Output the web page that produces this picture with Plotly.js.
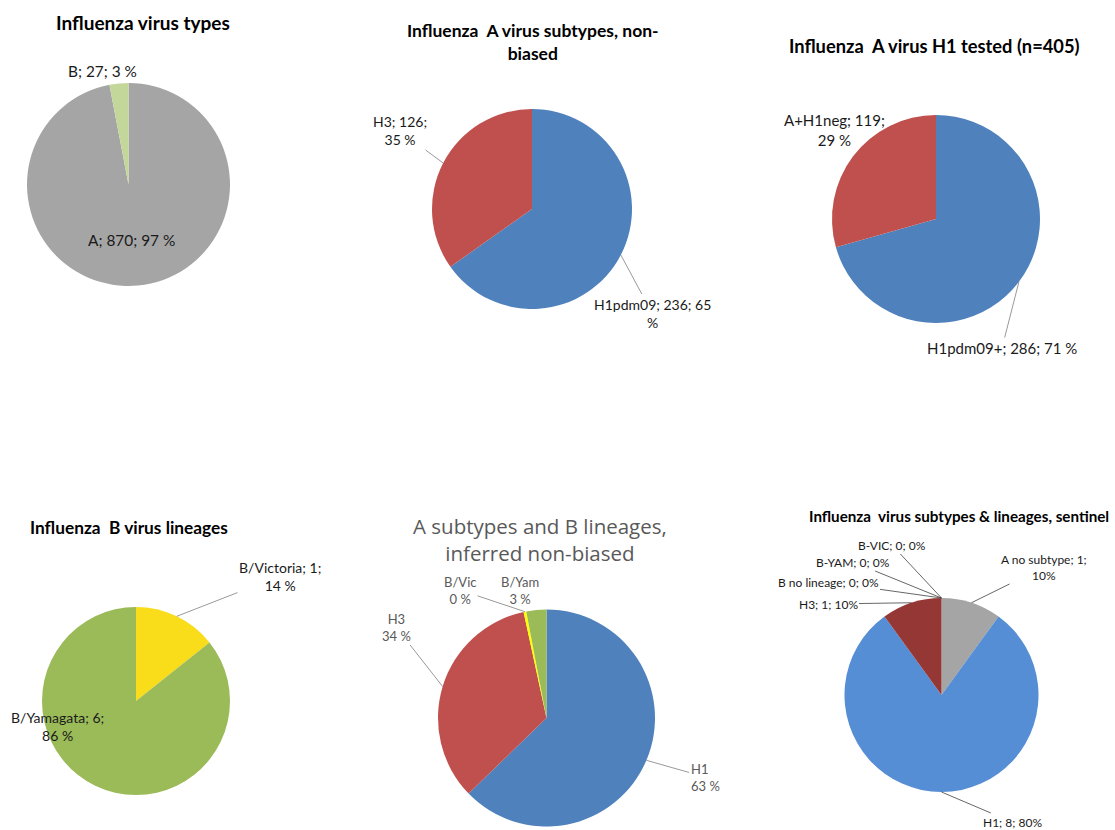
<!DOCTYPE html>
<html>
<head>
<meta charset="utf-8">
<script src="https://cdn.plot.ly/plotly-3.0.1.min.js"></script>
<style>html,body{margin:0;padding:0;background:#fff;}#chart{width:1115px;height:830px;}</style>
</head>
<body>
<div id="chart"></div>
<script>
// ---- data ----
const typeLabels = ['A', 'B'];
const typeValues = [870, 27];
const subLabels = ['H1pdm09', 'H3'];
const subValues = [236, 126];
const h1Labels = ['H1pdm09+', 'A+H1neg'];
const h1Values = [286, 119];
const linLabels = ['B/Victoria', 'B/Yamagata'];
const linValues = [1, 6];
const infLabels = ['H1', 'H3', 'B/Vic', 'B/Yam'];
const infPercents = [63, 34, 0.4, 3];
const senLabels = ['A no subtype', 'H1', 'H3', 'B no lineage', 'B-YAM', 'B-VIC'];
const senValues = [1, 8, 1, 0, 0, 0];

const titles = [
  'Influenza virus types',
  'Influenza  A virus subtypes, non-<br>biased',
  'Influenza  A virus H1 tested (n=405)',
  'Influenza  B virus lineages',
  'A subtypes and B lineages,<br>inferred non-biased',
  'Influenza  virus subtypes &amp; lineages, sentinel'
];

// ---- styling / layout ----
const W = 1115, H = 830;
const FONT = 'Lato, "Liberation Sans", sans-serif';
const pies = [
  {labels: typeLabels, values: typeValues, colors: ['#a5a5a5', '#c4d79b'], cx: 128.5, cy: 184.5, r: 101.5},
  {labels: subLabels, values: subValues, colors: ['#4f81bd', '#c0504d'], cx: 532, cy: 209, r: 100},
  {labels: h1Labels, values: h1Values, colors: ['#4f81bd', '#c0504d'], cx: 936, cy: 219, r: 104},
  {labels: linLabels, values: linValues, colors: ['#f9dc1a', '#9bbb59'], cx: 136, cy: 701, r: 94},
  {labels: infLabels, values: infPercents, colors: ['#4f81bd', '#c0504d', '#ffff00', '#9bbb59'], cx: 546.5, cy: 718, r: 108.5},
  {labels: senLabels, values: senValues, colors: ['#a5a5a5', '#558ed5', '#953735', '#ffc000', '#8064a2', '#4bacc6'], cx: 941.5, cy: 695, r: 97}
];
const titleSpecs = [
  {x: 143, y: 23, size: 19, bold: true, color: '#000'},
  {x: 533, y: 42, size: 17.5, bold: true, color: '#000'},
  {x: 934, y: 46, size: 18.3, bold: true, color: '#000'},
  {x: 129, y: 527, size: 17.3, bold: true, color: '#000'},
  {x: 540, y: 539, size: 20.5, bold: false, color: '#595959'},
  {x: 959, y: 516, size: 15.2, bold: true, color: '#000'}
];
// label placement: pie index, slice index, text centre, leader line, format style
const labelSpecs = [
  {p: 0, i: 0, tx: 131, ty: 240, line: false, style: 'one', size: 15.4, color: '#1a1a1a'},
  {p: 0, i: 1, tx: 102, ty: 71, line: false, style: 'one', size: 15.4, color: '#1a1a1a'},
  {p: 1, i: 0, tx: 652, ty: 313, line: true, style: 'brSign', size: 14, color: '#1a1a1a'},
  {p: 1, i: 1, tx: 400, ty: 131, line: true, style: 'brPct', size: 14, color: '#1a1a1a'},
  {p: 2, i: 0, tx: 1002, ty: 348, line: true, style: 'one', size: 15, color: '#1a1a1a'},
  {p: 2, i: 1, tx: 834, ty: 130, line: false, style: 'brPct', size: 15, color: '#1a1a1a'},
  {p: 3, i: 0, tx: 280, ty: 576, line: true, style: 'brPct', size: 14, color: '#1a1a1a'},
  {p: 3, i: 1, tx: 57, ty: 726, line: false, style: 'brPct', size: 14, color: '#1a1a1a'},
  {p: 4, i: 0, tx: 705, ty: 777, line: true, style: 'short', size: 13, color: '#595959', align: 'left'},
  {p: 4, i: 1, tx: 396, ty: 627, line: true, style: 'short', size: 13, color: '#595959'},
  {p: 4, i: 2, tx: 460, ty: 590, line: true, style: 'short', size: 13, color: '#595959'},
  {p: 4, i: 3, tx: 520, ty: 590, line: false, style: 'short', size: 13, color: '#595959'},
  {p: 5, i: 0, tx: 1044, ty: 567, line: true, style: 'tightBr', size: 12, color: '#1a1a1a'},
  {p: 5, i: 1, tx: 1012, ty: 822, line: true, style: 'tight', size: 12, color: '#1a1a1a'},
  {p: 5, i: 2, tx: 828, ty: 604, line: true, style: 'tight', size: 12, color: '#1a1a1a'},
  {p: 5, i: 3, tx: 828, ty: 582, line: true, style: 'tight', size: 12, color: '#1a1a1a'},
  {p: 5, i: 4, tx: 853, ty: 562, line: true, style: 'tight', size: 12, color: '#1a1a1a'},
  {p: 5, i: 5, tx: 892, ty: 545, line: true, style: 'tight', size: 12, color: '#1a1a1a'}
];

function fmt(label, v, pct, style) {
  switch (style) {
    case 'one': return `${label}; ${v}; ${pct} %`;
    case 'brPct': return `${label}; ${v};<br>${pct} %`;
    case 'brSign': return `${label}; ${v}; ${pct}<br>%`;
    case 'short': return `${label}<br>${pct} %`;
    case 'tight': return `${label}; ${v}; ${pct}%`;
    case 'tightBr': return `${label}; ${v};<br>${pct}%`;
  }
}
const px = x => x / W;
const py = y => 1 - y / H;

const traces = pies.map(p => ({
  type: 'pie',
  labels: p.labels,
  values: p.values,
  sort: false,
  direction: 'clockwise',
  rotation: 0,
  textinfo: 'none',
  hoverinfo: 'label+value+percent',
  showlegend: false,
  marker: {colors: p.colors, line: {width: 0}},
  domain: {x: [px(p.cx - p.r), px(p.cx + p.r)], y: [py(p.cy + p.r), py(p.cy - p.r)]}
}));

const annotations = [];
titleSpecs.forEach((t, k) => {
  annotations.push({
    xref: 'paper', yref: 'paper', x: px(t.x), y: py(t.y), showarrow: false,
    xanchor: 'center', yanchor: 'middle', align: 'center',
    text: t.bold ? `<b>${titles[k]}</b>` : titles[k],
    font: {family: t.bold ? FONT : '"Open Sans", Lato, sans-serif', size: t.size, color: t.color}
  });
});
labelSpecs.forEach(s => {
  const p = pies[s.p];
  const total = p.values.reduce((a, b) => a + b, 0);
  const before = p.values.slice(0, s.i).reduce((a, b) => a + b, 0);
  const v = p.values[s.i];
  const pct = Math.round(v / total * 100);
  const mid = 2 * Math.PI * (before + v / 2) / total;
  const tipX = p.cx + p.r * Math.sin(mid);
  const tipY = p.cy - p.r * Math.cos(mid);
  const text = fmt(p.labels[s.i], v, pct, s.style);
  const font = {family: FONT, size: s.size, color: s.color};
  if (s.line) {
    annotations.push({
      xref: 'paper', yref: 'paper', x: px(tipX), y: py(tipY),
      ax: s.tx - tipX, ay: s.ty - tipY, showarrow: true, arrowhead: 0,
      arrowwidth: 0.8, arrowcolor: s.p === 5 ? '#404040' : '#7f7f7f', standoff: 0,
      text, font, align: s.align || 'center'
    });
  } else {
    annotations.push({
      xref: 'paper', yref: 'paper', x: px(s.tx), y: py(s.ty), showarrow: false,
      xanchor: 'center', yanchor: 'middle', text, font, align: s.align || 'center'
    });
  }
});

const layout = {
  width: W, height: H,
  margin: {l: 0, r: 0, t: 0, b: 0},
  paper_bgcolor: '#ffffff',
  plot_bgcolor: '#ffffff',
  font: {family: FONT},
  annotations
};
Plotly.newPlot('chart', traces, layout, {displayModeBar: false, staticPlot: true});
</script>
</body>
</html>
